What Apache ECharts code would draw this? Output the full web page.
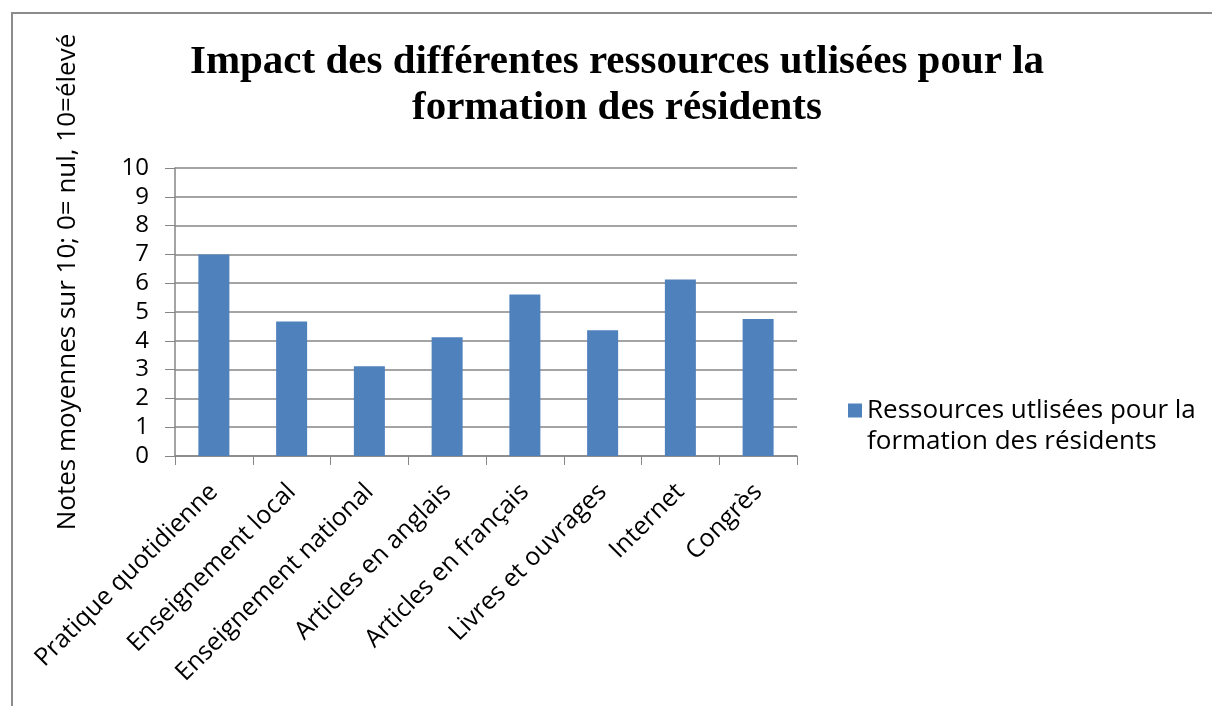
<!DOCTYPE html>
<html>
<head>
<meta charset="utf-8">
<script src="https://cdn.jsdelivr.net/npm/echarts@6/dist/echarts.min.js"></script>
<style>
html,body{margin:0;padding:0;background:#fff;}
#c{width:1212px;height:706px;}
</style>
</head>
<body>
<div id="c"></div>
<script>
const categories = ["Pratique quotidienne","Enseignement local","Enseignement national","Articles en anglais","Articles en français","Livres et ouvrages","Internet","Congrès"];
const values = [7.0, 4.67, 3.12, 4.12, 5.61, 4.37, 6.13, 4.76];
const seriesName = "Ressources utlisées pour la formation des résidents";
const titleText = "Impact des différentes ressources utlisées pour la\nformation des résidents";
const yAxisTitle = "Notes moyennes sur 10; 0= nul, 10=élevé";

const chart = echarts.init(document.getElementById('c'), null, {renderer:'canvas'});
const font = "'Open Sans', sans-serif";
chart.setOption({
  animation:false,
  backgroundColor:'#fff',
  title:{
    text:titleText,
    left:617, top:39, padding:0, textAlign:'center',
    textStyle:{fontFamily:"'Liberation Serif', serif", fontWeight:'bold', fontSize:41, lineHeight:46, color:'#000'}
  },
  graphic:[
    {type:'rect', shape:{x:12,y:13,width:1220,height:720}, style:{fill:'none', stroke:'#8c8c8c', lineWidth:2}, silent:true},
    {type:'text', x:68, y:282, rotation:Math.PI/2,
     style:{text:yAxisTitle, fontFamily:font, fontSize:26, fill:'#000', align:'center', verticalAlign:'middle'}}
  ],
  legend:{
    left:848, top:395, padding:0, orient:'vertical',
    itemWidth:14, itemHeight:62,
    icon:'path://M0,0L0,0M0,62L0,62M0,8.5L14,8.5L14,22.5L0,22.5Z',
    formatter:()=> "Ressources utlisées pour la\nformation des résidents",
    textStyle:{fontFamily:font, fontSize:26, lineHeight:31, color:'#000'}
  },
  grid:{left:175, right:415, top:168, bottom:250, containLabel:false},
  xAxis:{
    type:'category', data:categories,
    axisLine:{lineStyle:{color:'#868686', width:1.5}},
    axisTick:{show:true, length:9, alignWithLabel:false, lineStyle:{color:'#868686'}},
    axisLabel:{rotate:45, interval:0, margin:32, fontFamily:font, fontSize:25, color:'#000'}
  },
  yAxis:{
    type:'value', min:0, max:10, interval:1,
    axisLine:{show:true, lineStyle:{color:'#868686', width:1.5}},
    axisTick:{show:true, length:10, lineStyle:{color:'#868686'}},
    splitLine:{lineStyle:{color:'#868686', width:1.5}},
    axisLabel:{margin:26, fontFamily:font, fontSize:24, color:'#000'}
  },
  series:[{
    type:'bar', name:seriesName, data:values, barWidth:31,
    itemStyle:{color:'#4f81bd'}
  }]
});
</script>
</body>
</html>
